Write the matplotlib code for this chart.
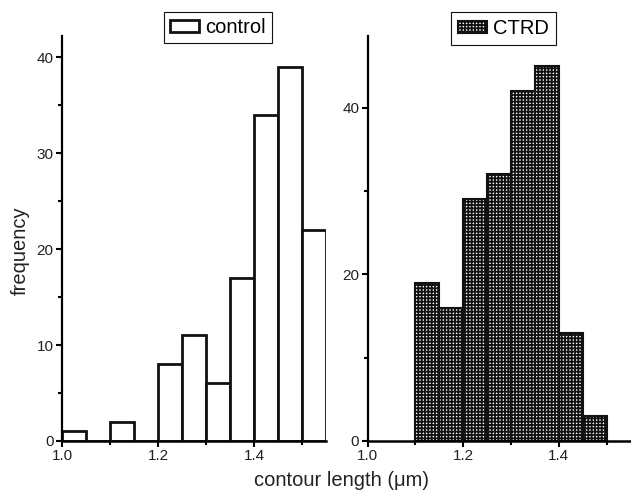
import numpy as np
import matplotlib
matplotlib.use("Agg")
import matplotlib.pyplot as plt
from matplotlib.ticker import MultipleLocator

plt.rcParams['font.family'] = ['Liberation Sans', 'DejaVu Sans']
plt.rcParams['hatch.linewidth'] = 1.3

# ############ Datos (histogramas, bins de 0.05)
bin_width = 0.05
control_left = [1.00, 1.05, 1.10, 1.15, 1.20, 1.25, 1.30, 1.35, 1.40, 1.45, 1.50]
control_counts = [1, 0, 2, 0, 8, 11, 6, 17, 34, 39, 22]
ctrd_left = [1.10, 1.15, 1.20, 1.25, 1.30, 1.35, 1.40, 1.45]
ctrd_counts = [19, 16, 29, 32, 42, 45, 13, 3]

fig = plt.figure(figsize=(6.31, 5.0), dpi=100)
ax1 = fig.add_axes([0.0983, 0.118, 0.4184, 0.81])
ax2 = fig.add_axes([0.5827, 0.118, 0.4166, 0.81])

# 01. Panel control
ax1.bar(control_left, control_counts, width=bin_width, align='edge',
        facecolor='white', edgecolor='#111111', linewidth=2, label='control')
ax1.set_xlim(1.0, 1.55)
ax1.set_ylim(0, 42.2)
ax1.yaxis.set_major_locator(MultipleLocator(10))
ax1.yaxis.set_minor_locator(MultipleLocator(5))

# 02. Panel CTRD
ax2.bar(ctrd_left, ctrd_counts, width=bin_width, align='edge',
        facecolor='white', edgecolor='#111111', hatch='+++++', linewidth=1.5, label='CTRD')
ax2.set_xlim(1.0, 1.55)
ax2.set_ylim(0, 48.6)
ax2.yaxis.set_major_locator(MultipleLocator(20))
ax2.yaxis.set_minor_locator(MultipleLocator(10))

for ax in (ax1, ax2):
    ax.spines['top'].set_visible(False)
    ax.spines['right'].set_visible(False)
    ax.spines['left'].set_linewidth(1.6)
    ax.spines['bottom'].set_linewidth(1.8)
    ax.xaxis.set_major_locator(MultipleLocator(0.2))
    ax.xaxis.set_minor_locator(MultipleLocator(0.1))
    ax.tick_params(which='major', direction='out', length=4, width=1.5,
                   labelsize=11, labelcolor='#222222', pad=2)
    ax.tick_params(which='minor', direction='out', length=3, width=1.5)
    ax.set_xticks([1.0, 1.2, 1.4])
    ax.set_xticklabels(['1.0', '1.2', '1.4'])

ax1.legend(loc='upper left', bbox_to_anchor=(164 / 631, 1 - 12 / 500),
           bbox_transform=fig.transFigure, fontsize=14.5, frameon=True,
           fancybox=False, edgecolor='#111111', handlelength=1.45,
           handleheight=0.5, handletextpad=0.3, borderpad=0.3,
           borderaxespad=0, framealpha=1)
ax2.legend(loc='upper left', bbox_to_anchor=(451 / 631, 1 - 12 / 500),
           bbox_transform=fig.transFigure, fontsize=14.5, frameon=True,
           fancybox=False, edgecolor='#111111', handlelength=1.45,
           handleheight=0.5, handletextpad=0.3, borderpad=0.35,
           borderaxespad=0, framealpha=1)
ax1.get_legend().get_frame().set_linewidth(0.8)
ax2.get_legend().get_frame().set_linewidth(0.8)

fig.text(342 / 631, 1 - 480 / 500, 'contour length (μm)', ha='center', va='center',
         fontsize=14.5, color='#222222')
fig.text(20 / 631, 1 - 251 / 500, 'frequency', ha='center', va='center',
         rotation=90, fontsize=14.5, color='#222222')

plt.savefig('out.png', dpi=100)
